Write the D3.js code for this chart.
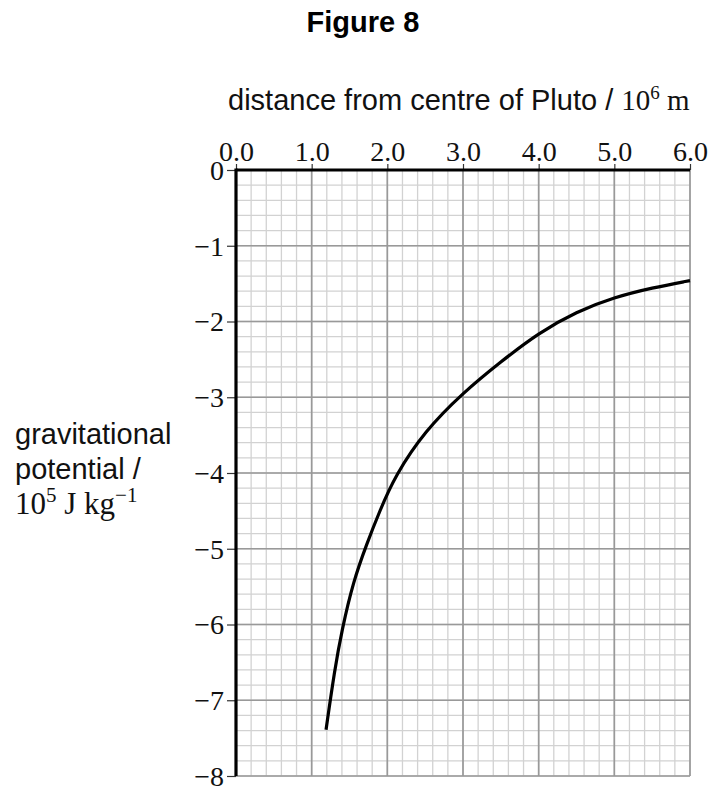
<!DOCTYPE html>
<html>
<head>
  <meta charset="utf-8">
  <title>Figure 8</title>
  <style>
    body { margin: 0; background: #fff; }
    svg { display: block; }
    .sans { font-family: "Liberation Sans", Arial, sans-serif; }
    .serif { font-family: "Liberation Serif", "Times New Roman", serif; }
  </style>
</head>
<body>
  <script src="https://d3js.org/d3.v7.min.js"></script>
  <script>
    // values
    const xTicks = [0, 1, 2, 3, 4, 5, 6];
    const yTicks = [0, -1, -2, -3, -4, -5, -6, -7, -8];
    const distance = [1.19, 1.30, 1.40, 1.55, 1.73, 1.90, 2.10, 2.50, 3.00, 3.50, 4.00, 4.50, 5.00, 5.50, 6.00];
    const potential = [-7.39, -6.62, -6.07, -5.43, -4.93, -4.50, -4.04, -3.44, -2.94, -2.53, -2.15, -1.87, -1.68, -1.555, -1.46];

    const width = 715, height = 787;
    const svg = d3.select("body").append("svg").attr("width", width).attr("height", height);

    const x = d3.scaleLinear().domain([0, 6]).range([236, 690]);
    const y = d3.scaleLinear().domain([0, -8]).range([170, 776]);

    // grid: minor every 0.2
    const minorX = d3.range(0, 6.0001, 0.2);
    const minorY = d3.range(0, -8.0001, -0.2);
    const grid = svg.append("g");
    grid.selectAll(".mx").data(minorX).join("line")
      .attr("x1", d => x(d)).attr("x2", d => x(d))
      .attr("y1", y(0)).attr("y2", y(-8))
      .attr("stroke", "#d2d2d2").attr("stroke-width", 1.3);
    grid.selectAll(".my").data(minorY).join("line")
      .attr("y1", d => y(d)).attr("y2", d => y(d))
      .attr("x1", x(0)).attr("x2", x(6))
      .attr("stroke", "#d2d2d2").attr("stroke-width", 1.3);
    grid.selectAll(".Mx").data(xTicks).join("line")
      .attr("x1", d => x(d)).attr("x2", d => x(d))
      .attr("y1", y(0)).attr("y2", y(-8))
      .attr("stroke", "#999").attr("stroke-width", 1.7);
    grid.selectAll(".My").data(yTicks).join("line")
      .attr("y1", d => y(d)).attr("y2", d => y(d))
      .attr("x1", x(0)).attr("x2", x(6))
      .attr("stroke", "#999").attr("stroke-width", 1.7);

    // axes
    const xAxis = d3.axisTop(x).tickValues(xTicks).tickSize(6).tickFormat(d => d3.format(".1f")(d));
    const gx = svg.append("g").attr("transform", `translate(0,${y(0)})`).call(xAxis);
    gx.select(".domain").remove();
    gx.selectAll(".tick line").attr("stroke", "#333").attr("stroke-width", 1.2);
    gx.selectAll(".tick text").attr("class", "serif").attr("font-size", 28).attr("fill", "#111")
      .attr("y", -9);

    const yAxis = d3.axisLeft(y).tickValues(yTicks).tickSize(9).tickFormat(d => d === 0 ? "0" : "\u2212" + Math.abs(d));
    const gy = svg.append("g").attr("transform", `translate(${x(0)},0)`).call(yAxis);
    gy.select(".domain").remove();
    gy.selectAll(".tick line").attr("stroke", "#333").attr("stroke-width", 1.2);
    gy.selectAll(".tick text").attr("class", "serif").attr("font-size", 28).attr("fill", "#111")
      .attr("x", -12).attr("dy", "0.33em");

    // heavy axis lines
    svg.append("line").attr("x1", x(0)).attr("x2", x(6)).attr("y1", y(0)).attr("y2", y(0))
      .attr("stroke", "#000").attr("stroke-width", 3.2);
    svg.append("line").attr("x1", x(0)).attr("x2", x(0)).attr("y1", y(0) - 1.5).attr("y2", y(-8))
      .attr("stroke", "#000").attr("stroke-width", 3.2);

    // curve
    const line = d3.line().x((d, i) => x(distance[i])).y(d => y(d)).curve(d3.curveBasis);
    svg.append("path").attr("d", line(potential))
      .attr("fill", "none").attr("stroke", "#000").attr("stroke-width", 3.2);

    // titles
    svg.append("text").attr("class", "sans").attr("x", 363).attr("y", 32)
      .attr("text-anchor", "middle").attr("font-size", 29).attr("font-weight", "bold")
      .attr("fill", "#000").text("Figure 8");

    const xt = svg.append("text").attr("x", 228).attr("y", 110).attr("font-size", 29).attr("fill", "#111");
    xt.append("tspan").attr("class", "sans").text("distance from centre of Pluto / ");
    xt.append("tspan").attr("class", "serif").text("10");
    xt.append("tspan").attr("class", "serif").attr("font-size", 19).attr("dy", -11).text("6");
    xt.append("tspan").attr("class", "serif").attr("dy", 11).text(" m");

    const yl = svg.append("g").attr("fill", "#111");
    yl.append("text").attr("class", "sans").attr("x", 15).attr("y", 444).attr("font-size", 29).text("gravitational");
    yl.append("text").attr("class", "sans").attr("x", 15).attr("y", 479).attr("font-size", 29).text("potential /");
    const u = yl.append("text").attr("class", "serif").attr("x", 15).attr("y", 514).attr("font-size", 31);
    u.append("tspan").text("10");
    u.append("tspan").attr("font-size", 21).attr("dy", -12).text("5");
    u.append("tspan").attr("dy", 12).text(" J kg");
    u.append("tspan").attr("font-size", 21).attr("dy", -12).text("\u22121");
  </script>
</body>
</html>
